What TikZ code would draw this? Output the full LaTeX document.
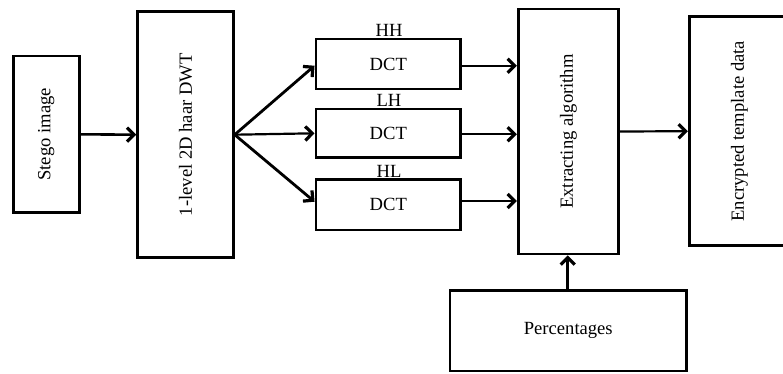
\documentclass[tikz,border=0pt]{standalone}
\usepackage{fontspec}
\setmainfont{Liberation Serif}
\usetikzlibrary{arrows.meta}
\begin{document}
\begin{tikzpicture}[x=1pt,y=-1pt,
  box/.style={draw, line width=2.8pt, inner sep=0pt, font=\fontsize{18.6}{21}\selectfont},
  lbl/.style={inner sep=0pt, font=\fontsize{18.6}{21}\selectfont},
  arr/.style={line width=2.2pt, -{Straight Barb[length=7pt,width=14pt,line width=3.2pt]}}]
\useasboundingbox (0,0) rectangle (783,373);
\clip (0,0) rectangle (783,373);
\node[box, minimum width=66pt, minimum height=156.7pt] (stego) at (46.3,134.3) {};
\node[lbl, rotate=90] at (stego.center) {Stego image};
\node[box, minimum width=95.6pt, minimum height=246pt] (dwt) at (185.5,134.7) {};
\node[lbl, rotate=90] at (dwt.center) {1-level 2D haar DWT};
\node[box, minimum width=144.7pt, minimum height=50pt] (hh) at (388.3,64) {DCT};
\node[box, minimum width=144.7pt, minimum height=48.7pt] (lh) at (388.3,133.3) {DCT};
\node[box, minimum width=144.7pt, minimum height=50.7pt] (hl) at (388.3,204.7) {DCT};
\node[lbl] (hht) at (389,30) {HH};
\node[lbl] (lht) at (389,100) {LH};
\node[lbl] (hlt) at (389,171.7) {HL};
\node[box, minimum width=100pt, minimum height=245pt] (ext) at (568.3,131.5) {};
\node[lbl, rotate=90] at (ext.center) {Extracting algorithm};
\node[box, minimum width=100pt, minimum height=229pt] (enc) at (739.3,131.2) {};
\node[lbl, rotate=90] at (enc.center) {Encrypted template data};
\node[box, minimum width=236.7pt, minimum height=80.3pt] (perc) at (568.3,330.8) {Percentages};
\draw[arr, line width=2.6pt] (stego.east) -- (dwt.west);
\coordinate (fork) at (dwt.east);
\draw[arr, line width=2.8pt] (fork) -- (hh.west |- 0,65.7);
\draw[arr] (fork) -- (lh.west);
\draw[arr, line width=2.8pt] (fork) -- (hl.west |- 0,201.7);
\draw[arr] (hh.east |- 0,65.7) -- (ext.west |- 0,65.7);
\draw[arr] (lh.east |- 0,134.3) -- (ext.west |- 0,134.3);
\draw[arr] (hl.east |- 0,201) -- (ext.west |- 0,201);
\draw[arr] (ext.east) -- (enc.west);
\draw[arr, line width=2.6pt] (perc.north -| 567.7,0) -- (ext.south -| 567.7,0);
\end{tikzpicture}
\end{document}
